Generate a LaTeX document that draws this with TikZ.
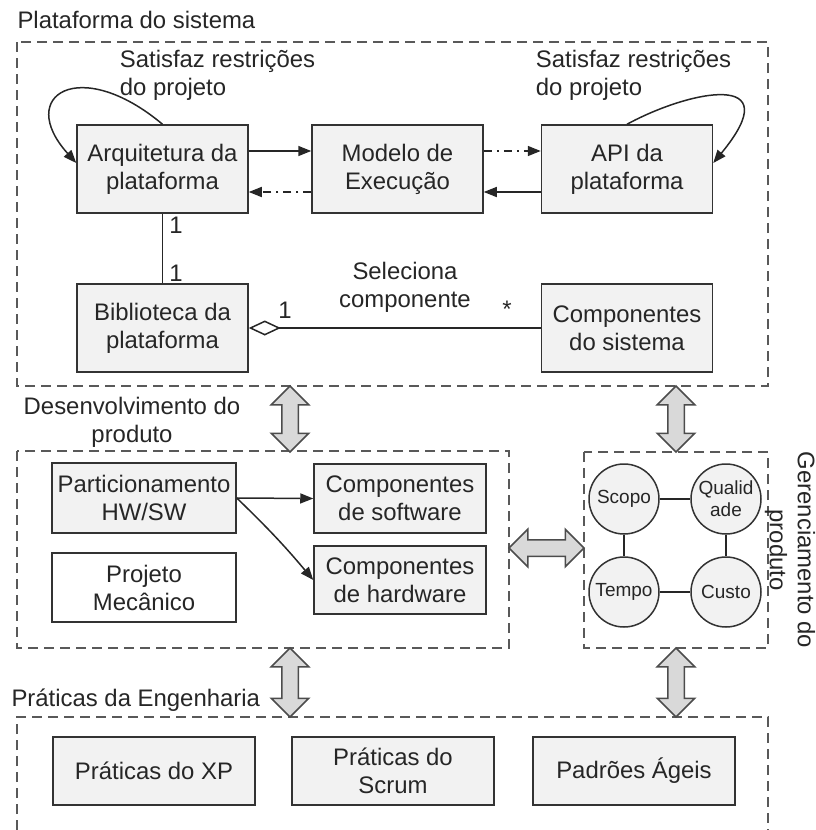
\documentclass[tikz,border=0pt]{standalone}
\usepackage{fontspec}
\setmainfont{Liberation Sans}
\usetikzlibrary{positioning,arrows.meta,shapes.arrows,calc}
\tikzset{
  flowarrow/.style={-{Triangle[length=13pt,width=10pt]}, line width=1.5pt, black!85},
  dotarrow/.style={-{Triangle[length=13pt,width=10pt]}, line width=1.5pt, black!85, dash pattern=on 8pt off 5pt on 2pt off 5pt},
  plainline/.style={line width=1.5pt, black!85},
  aggline/.style={{Diamond[open,length=32pt,width=15pt,fill=white]}-, line width=1.5pt, black!85},
  blockbox/.style={draw=black!80, line width=1.5pt, fill=black!5, minimum width=171pt, minimum height=88pt, align=center, inner sep=2pt},
  whitebox/.style={blockbox, fill=white},
  pracbox/.style={blockbox, minimum width=202pt, minimum height=68pt},
  circnode/.style={circle, draw=black!80, line width=1.5pt, fill=black!5, minimum size=70pt, inner sep=0pt, align=center, font=\fontsize{19}{22}\selectfont},
  framebox/.style={draw=black!65, line width=2pt, dash pattern=on 10pt off 6pt},
  fatarrow/.style={double arrow, draw=black!70, fill=black!15, line width=1.5pt, inner xsep=0pt, inner ysep=7.5pt, text height=0pt, text depth=0pt, double arrow head extend=10.5pt},
  mult/.style={inner sep=1pt}
}
\begin{document}
\begin{tikzpicture}[x=1pt, y=-1pt, every node/.style={font=\fontsize{23.9}{28}\selectfont, text=black!85}]
  \useasboundingbox (0,0) rectangle (816,830);
  \draw[framebox] (17,42) rectangle (768,386);
  \draw[framebox] (17,451) rectangle (509,648);
  \draw[framebox] (584,452) rectangle (768,648);
  \draw[framebox] (17,830) -- (17,717) -- (768,717) -- (768,830);
  \node[anchor=west] (tplat) at (14,20) {Plataforma do sistema};
  \node[align=center] (tdes) at (132,422) {Desenvolvimento do\\produto};
  \node[anchor=west] (tprat) at (8,700) {Práticas da Engenharia};
  \node[align=center, rotate=-90] (tger) at (790,550) {Gerenciamento do\\produto};
  \node[blockbox] (arq) at (162.5,169) {Arquitetura da\\plataforma};
  \node[blockbox] (exec) at (397.5,169) {Modelo de\\Execução};
  \node[blockbox] (api) at (627,169) {API da\\plataforma};
  \node[blockbox] (bib) at (162.5,328) {Biblioteca da\\plataforma};
  \node[blockbox] (compsis) at (627,328) {Componentes\\do sistema};
  \node[align=left] (rarq) at (217.5,75) {Satisfaz restrições\\do projeto};
  \node[align=left] (rapi) at (633.5,75) {Satisfaz restrições\\do projeto};
  \draw[flowarrow] ([yshift=18pt]arq.east) -- ([yshift=18pt]exec.west);
  \draw[dotarrow] ([yshift=-23pt]exec.west) -- ([yshift=-23pt]arq.east);
  \draw[dotarrow] ([yshift=18pt]exec.east) -- ([yshift=18pt]api.west);
  \draw[flowarrow] ([yshift=-23pt]api.west) -- ([yshift=-23pt]exec.east);
  \draw[flowarrow] (arq.north) .. controls (80,55) and (15,95) .. ([yshift=6pt]arq.west);
  \draw[flowarrow] (api.north) .. controls (690,90) and (790,70) .. ([yshift=6pt]api.east);
  \draw[plainline] (arq.south) -- node[pos=0.16, right=5pt, mult] {1} node[pos=0.85, right=5pt, mult] {1} (bib.north);
  \draw[aggline] (bib.east) -- (compsis.west);
  \node[mult] (m1) at (285,310) {1};
  \node[mult] (m2) at (507,309) {*};
  \node[align=center] (tsel) at (405,287) {Seleciona\\componente};
  \node[blockbox, minimum width=184pt, minimum height=70pt] (part) at (144,498) {Particionamento\\HW/SW};
  \node[whitebox, minimum width=184pt, minimum height=69pt] (mec) at (144,587.5) {Projeto\\Mecânico};
  \node[blockbox, minimum width=172pt, minimum height=69pt] (sw) at (400,498.5) {Componentes\\de software};
  \node[blockbox, minimum width=172pt, minimum height=68pt] (hw) at (400,580) {Componentes\\de hardware};
  \draw[flowarrow] (part.east) -- (sw.west);
  \draw[flowarrow] (part.east) to[bend left=3] (hw.west);
  \node[circnode] (scopo) at (624,499) {Scopo};
  \node[circnode] (qual) at (726,499) {Qualid\\ade};
  \node[circnode] (tempo) at (624,592) {Tempo};
  \node[circnode] (custo) at (726,592) {Custo};
  \draw[plainline] (scopo) -- (qual);
  \draw[plainline] (scopo) -- (tempo);
  \draw[plainline] (qual) -- (custo);
  \draw[plainline] (tempo) -- (custo);
  \node[pracbox] (xp) at (154,771) {Práticas do XP};
  \node[pracbox] (scrum) at (393,771) {Práticas do\\Scrum};
  \node[pracbox] (agil) at (634,771) {Padrões Ágeis};
  \node[fatarrow, rotate=90, minimum height=66pt] (f1) at (290,419) {};
  \node[fatarrow, rotate=90, minimum height=66pt] (f2) at (676,419) {};
  \node[fatarrow, rotate=90, minimum height=69pt] (f3) at (290,682.5) {};
  \node[fatarrow, rotate=90, minimum height=69pt] (f4) at (676,682.5) {};
  \node[fatarrow, minimum height=75pt] (f5) at (546.5,548) {};
\end{tikzpicture}
\end{document}
